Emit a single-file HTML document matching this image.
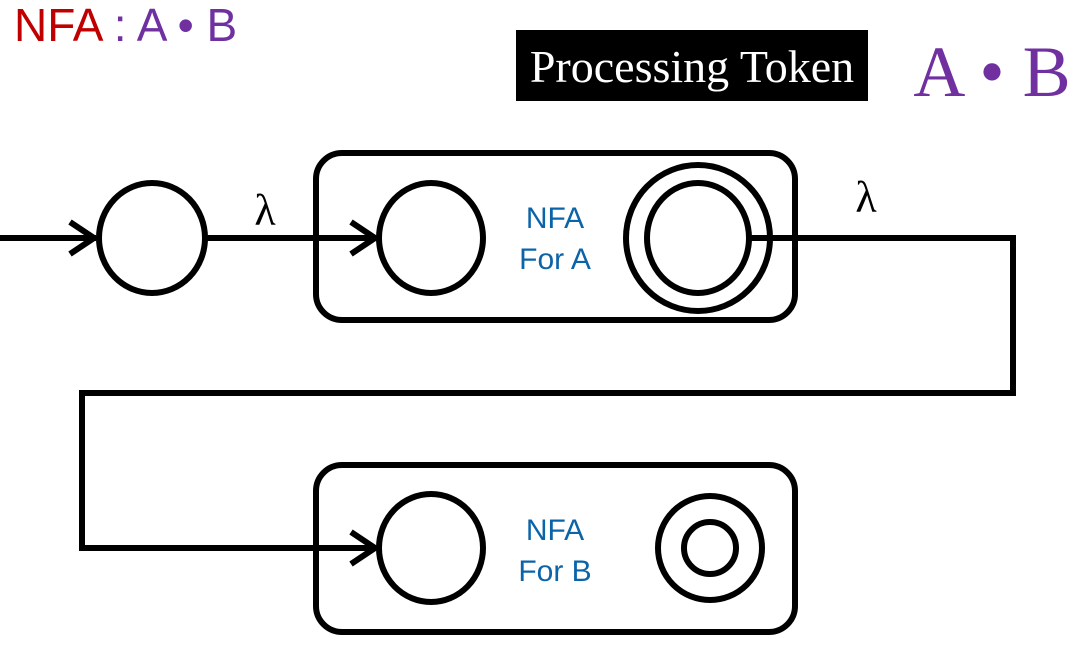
<!DOCTYPE html>
<html><head><style>
body{margin:0;width:1084px;height:666px;background:#fff;overflow:hidden}
</style></head><body>
<svg width="1084" height="666" viewBox="0 0 1084 666" xmlns="http://www.w3.org/2000/svg">
<g fill="none" stroke="#000" stroke-width="6">
<rect x="316" y="153" width="479" height="167" rx="26"/>
<rect x="316" y="465" width="479" height="167" rx="26"/>
<ellipse cx="152" cy="238" rx="53" ry="55"/>
<ellipse cx="431" cy="238" rx="52" ry="55"/>
<ellipse cx="698" cy="238" rx="72" ry="73"/>
<ellipse cx="698" cy="238" rx="51" ry="55"/>
<ellipse cx="431" cy="548" rx="52" ry="54"/>
<circle cx="710" cy="548" r="52"/>
<circle cx="710" cy="548" r="26"/>
<path d="M0 238 H96"/>
<path d="M205 238 H376"/>
<path d="M750 238 H1013 V393 H82 V548 H376"/>
<path d="M70 222 L94 238 L70 254"/>
<path d="M351 222 L375 238 L351 254"/>
<path d="M351 532 L375 548 L351 564"/>
</g>
<text x="14" y="41" font-family="Liberation Sans, sans-serif" font-size="46" fill="#c00000">NFA <tspan fill="#7030a0">: A • B</tspan></text>
<rect x="516" y="30" width="352" height="71" fill="#000"/>
<text x="692" y="82" text-anchor="middle" font-family="Liberation Serif, serif" font-size="46" fill="#fff">Processing Token</text>
<text x="992" y="96" text-anchor="middle" font-family="Liberation Serif, serif" font-size="72" fill="#7030a0">A • B</text>
<text x="265" y="225" text-anchor="middle" font-family="Liberation Serif, serif" font-size="44">λ</text>
<text x="866" y="212" text-anchor="middle" font-family="Liberation Serif, serif" font-size="44">λ</text>
<g font-family="Liberation Sans, sans-serif" font-size="30" fill="#0b64a8" text-anchor="middle">
<text x="555" y="228">NFA</text><text x="555" y="269">For A</text>
<text x="555" y="540">NFA</text><text x="555" y="581">For B</text>
</g>
</svg>
</body></html>
